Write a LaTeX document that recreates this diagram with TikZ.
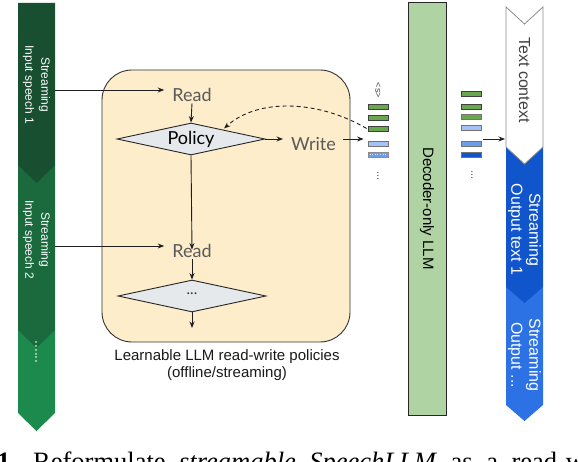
\documentclass[tikz,border=0pt]{standalone}
\usepackage{fontspec}
\setmainfont{Liberation Sans}
\newfontfamily\latofont{Lato}
\newfontfamily\capserif{Liberation Serif}
\usetikzlibrary{shapes.geometric,arrows.meta}
\definecolor{gA}{HTML}{184F31}
\definecolor{gB}{HTML}{1A6A3E}
\definecolor{gC}{HTML}{1C8A4D}
\definecolor{bA}{HTML}{1155CC}
\definecolor{bB}{HTML}{2D72E5}
\definecolor{llmgreen}{HTML}{B0D3A3}
\definecolor{boxfill}{HTML}{FDEDCB}
\definecolor{dfill}{HTML}{E6E9EB}
\definecolor{tokgreen}{HTML}{6AA84F}
\definecolor{toklight}{HTML}{A4C2F4}
\definecolor{tokmid}{HTML}{6D9EEB}
\definecolor{tokdark}{HTML}{1155CC}
\definecolor{txtgray}{HTML}{5A5A5A}
\begin{document}
\begin{tikzpicture}[x=1pt,y=-1pt,
  arr/.style={draw=black!88, line width=0.9pt, -{Stealth[length=6.5pt,width=5pt]}},
  flowtxt/.style={font=\latofont\fontsize{18pt}{20pt}\selectfont, text=txtgray, inner sep=1pt},
  dec/.style={diamond, draw=black!85, line width=0.9pt, fill=dfill, aspect=4.6,
    minimum width=148pt, minimum height=32pt, inner sep=0pt},
  coltxt/.style={rotate=-90, align=center, text=white,
    font=\fontsize{12pt}{16pt}\selectfont},
  outtxt/.style={rotate=-90, align=center, text=white,
    font=\fontsize{16pt}{18pt}\selectfont},
  bar/.style={rectangle, minimum width=20pt, minimum height=5pt, inner sep=0pt,
    line width=0.8pt, draw=black!75},
  vdots/.style={rotate=-90, inner sep=0pt, text=black!70,
    font=\fontsize{11pt}{11pt}\selectfont}
]
\useasboundingbox (0,0) rectangle (578,462);
\clip (0,0) rectangle (578,462);

% ---------- left input column ----------
\fill[gC] (18,330) -- (55,330) -- (55,413) -- (36.5,431) -- (18,413) -- cycle;
\fill[gB] (18,165) -- (55,165) -- (55,330) -- (36.5,348) -- (18,330) -- cycle;
\fill[gA] (18,3) -- (55,3) -- (55,165) -- (36.5,183) -- (18,165) -- cycle;
\node[coltxt] (in1txt) at (36.5,85) {Streaming\\Input speech 1};
\node[coltxt] (in2txt) at (36.5,240) {Streaming\\Input speech 2};
\node[rotate=-90, text=white, inner sep=0pt, font=\fontsize{14pt}{14pt}\selectfont] (in3txt) at (36,352) {......};
\coordinate (in1) at (55,90);
\coordinate (in2) at (55,246);

% ---------- policy box ----------
\draw[fill=boxfill, draw=black!80, line width=0.9pt, rounded corners=30pt] (102,70) rectangle (350,342);
\node[flowtxt, anchor=base] (read1) at (192,102) {Read};
\node[dec] (pol) at (191,139) {};
\node[font=\latofont\fontsize{18pt}{20pt}\selectfont, text=black] (poltxt) at (191,139) {Policy};
\node[flowtxt, anchor=base west, inner sep=0pt] (write) at (291,151) {Write};
\node[flowtxt, anchor=base] (read2) at (192,258) {Read};
\node[dec] (pol2) at (192,296) {};
\node[font=\latofont\fontsize{15pt}{15pt}\selectfont, text=black!80] (pol2txt) at (192,294) {...};
\coordinate (pout) at (192,328);

\node[align=center, font=\fontsize{15pt}{17pt}\selectfont, text=black!90] (boxcap) at (227,365)
  {Learnable LLM read-write policies\\(offline/streaming)};

% ---------- token stack 1 ----------
\node[bar, fill=tokgreen] (s1a) at (378,106.5) {};
\node[bar, fill=tokgreen] (s1b) at (378,117.5) {};
\node[bar, fill=tokgreen] (s1c) at (378,128.5) {};
\node[bar, fill=toklight, draw=black!55] (s1d) at (378,143.7) {};
\node[bar, fill=tokmid, draw=black!45] (s1e) at (378,154.5) {};
\draw[white!70!tokmid, dotted, line width=0.6pt] ([xshift=2pt]s1e.west) -- ([xshift=-2pt]s1e.east);
\node[rotate=-90, inner sep=0pt, text=black!70, font=\fontsize{9pt}{9pt}\selectfont] (s1s) at (378,90.5) {<s>};
\node[vdots] (s1dots) at (378,176) {...};

% ---------- decoder LLM ----------
\node[rectangle, rotate=-90, draw=black!85, line width=0.9pt, fill=llmgreen,
  minimum width=413pt, minimum height=38pt, inner sep=0pt,
  font=\fontsize{15pt}{17pt}\selectfont] (llm) at (427,208.5) {Decoder-only LLM};

% ---------- token stack 2 ----------
\node[bar, fill=tokgreen] (s2a) at (471,94.3) {};
\node[bar, fill=tokgreen] (s2b) at (471,106.7) {};
\node[bar, fill=tokgreen, draw=black!55] (s2c) at (471,117) {};
\node[bar, fill=toklight, draw=black!55] (s2d) at (471,128) {};
\node[bar, fill=tokmid, draw=black!55] (s2e) at (471,143.5) {};
\node[bar, fill=tokdark, draw=black!55] (s2f) at (471,154.5) {};
\node[vdots] (s2dots) at (472,175) {...};

% ---------- right output column ----------
\fill[bB] (506,287) -- (543,287) -- (543,405) -- (524.5,421) -- (506,405) -- cycle;
\fill[bA] (506,147) -- (543,147) -- (543,287) -- (524.5,303) -- (506,287) -- cycle;
\filldraw[fill=white, draw=black!45, line width=0.8pt]
  (506,7) -- (524.5,24) -- (543,7) -- (543,147) -- (524.5,164) -- (506,147) -- cycle;
\node[rotate=-90, text=black!75, font=\fontsize{16pt}{18pt}\selectfont] (ctx) at (524.5,80) {Text context};
\node[outtxt] (out1) at (524.5,229.5) {Streaming\\Output text 1};
\node[outtxt] (out2) at (524.5,355) {Streaming\\Output ...};
\coordinate (outin) at (505,139);

% ---------- connectors ----------
\draw[arr] (in1) -- ([xshift=-7pt]read1.west |- in1);
\draw[arr] (in2) -- ([xshift=-7pt]read2.west |- in2);
\draw[arr] (read1.south) -- (pol.north);
\draw[arr] (pol.east) -- ([xshift=-8pt]write.west |- pol.east);
\draw[arr] ([xshift=7pt]write.east |- pol.east) -- ([xshift=-4pt]s1d.west |- pol.east);
\draw[arr] (pol.south) -- ([yshift=-6pt]read2.north);
\draw[arr] (read2.south) -- (pol2.north);
\draw[arr] (pol2.south) -- (pout);
\draw[arr, dashed, dash pattern=on 4pt off 3pt] ([xshift=-1pt]s1c.west) .. controls (318,100) and (258,98) .. (224,128.5);
\draw[arr] ([xshift=2pt]s2e.east |- outin) -- (outin);

% ---------- cut caption ----------
\node[anchor=base west, inner sep=0pt, font=\capserif\bfseries\fontsize{26.5pt}{30pt}\selectfont] (fignum) at (-3,470) {1.};
\node[anchor=base west, inner sep=0pt, font=\capserif\fontsize{26.5pt}{30pt}\selectfont] (figcap) at (33,470)
  {\spaceskip=13.5pt Reformulate \textit{streamable SpeechLLM} as a read-write};
\end{tikzpicture}
\end{document}
